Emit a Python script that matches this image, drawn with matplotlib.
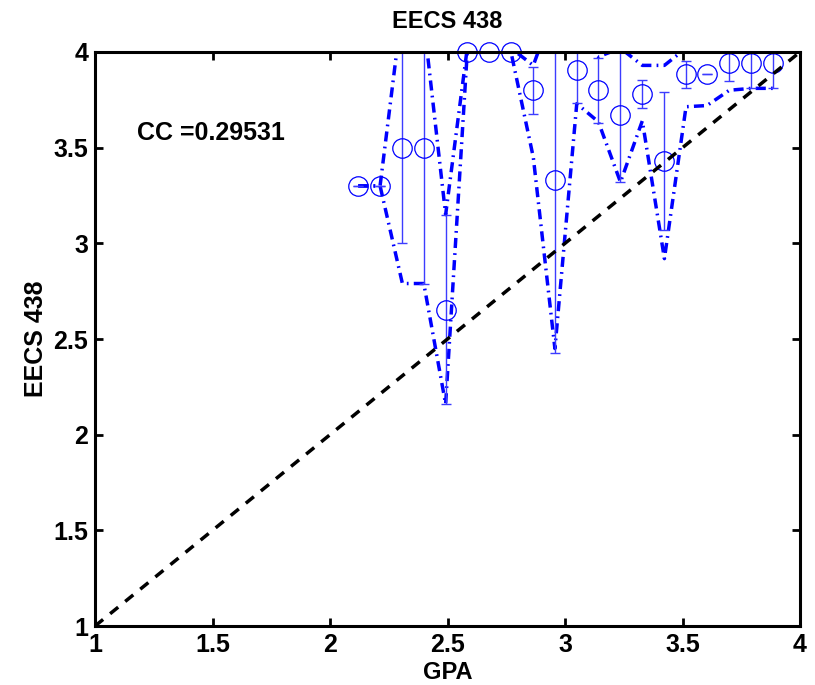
"""EECS 438 grade vs GPA, binned means with spread bands."""

import matplotlib

matplotlib.use("Agg")
import matplotlib.pyplot as plt

# binned GPA centres and the mean EECS 438 grade in each bin
gpa = [2.120, 2.213, 2.308, 2.399, 2.492, 2.584, 2.677, 2.770, 2.865, 2.957,
       3.050, 3.142, 3.236, 3.329, 3.423, 3.515, 3.604, 3.699, 3.793, 3.886]
grade_mean = [3.30, 3.30, 3.50, 3.50, 2.653, 4.00, 4.00, 4.00, 3.80, 3.333,
              3.906, 3.80, 3.669, 3.78, 3.431, 3.883, 3.883, 3.94, 3.94, 3.94]
grade_std = [0.0, 0.0, 0.50, 0.71, 0.494, 0.0, 0.0, 0.0, 0.123, 0.905,
             0.175, 0.17, 0.348, 0.075, 0.36, 0.072, 0.0, 0.09, 0.13, 0.13]

# band curves as drawn (upper / lower)
band_upper = [3.30, 3.30, 4.24, 4.16, 3.15, 4.02, 4.02, 4.02, 3.93, 4.24,
              4.08, 3.975, 4.02, 3.93, 3.93, 4.02, 4.05, 4.03, 4.07, 4.07]
band_lower = [3.30, 3.30, 2.79, 2.79, 2.16, 4.00, 4.00, 4.00, 3.45, 2.45,
              3.73, 3.635, 3.32, 3.64, 2.92, 3.714, 3.72, 3.80, 3.81, 3.81]

cc_text = "CC =0.29531"
ticks = [1, 1.5, 2, 2.5, 3, 3.5, 4]
tick_labels = ["1", "1.5", "2", "2.5", "3", "3.5", "4"]

plt.rcParams["font.family"] = ["Liberation Sans", "DejaVu Sans"]
plt.rcParams["font.weight"] = "bold"

fig = plt.figure(figsize=(8.15, 6.85), dpi=100)
ax = fig.add_axes([0.1166, 0.0861, 0.8650, 0.8380])

band_style = dict(color="#0000ff", lw=2.5, linestyle=(0, (2.9, 1.5, 0.5, 1.5)))
ax.plot(gpa, band_upper, **band_style)
ax.plot(gpa, band_lower, **band_style)

ax.errorbar(gpa, grade_mean, yerr=grade_std, fmt="none", ecolor="#3c3cff",
            elinewidth=1.0, capsize=3.5, capthick=1.0)
ax.plot(gpa, grade_mean, "o", ms=14, mfc="none", mec="#0000ff", mew=0.9,
        clip_on=False)

ax.plot([1, 4], [1, 4], "--", color="black", lw=2.5, dashes=(3, 2.6))

ax.text(1.18, 3.575, cc_text, fontsize=18, fontweight="bold", va="center")

ax.set_xlim(1, 4)
ax.set_ylim(1, 4)
ax.set_xticks(ticks)
ax.set_xticklabels(tick_labels)
ax.set_yticks(ticks)
ax.set_yticklabels(tick_labels)
ax.tick_params(direction="in", length=6, width=2, labelsize=18, top=True,
               right=True, pad=5)
for spine in ax.spines.values():
    spine.set_linewidth(2.2)

ax.set_title("EECS 438", fontsize=17, fontweight="bold", pad=17)
ax.set_xlabel("GPA", fontsize=17, fontweight="bold", labelpad=3)
ax.set_ylabel("EECS 438", fontsize=18, fontweight="bold", labelpad=4)

fig.savefig("out.png", dpi=100)
